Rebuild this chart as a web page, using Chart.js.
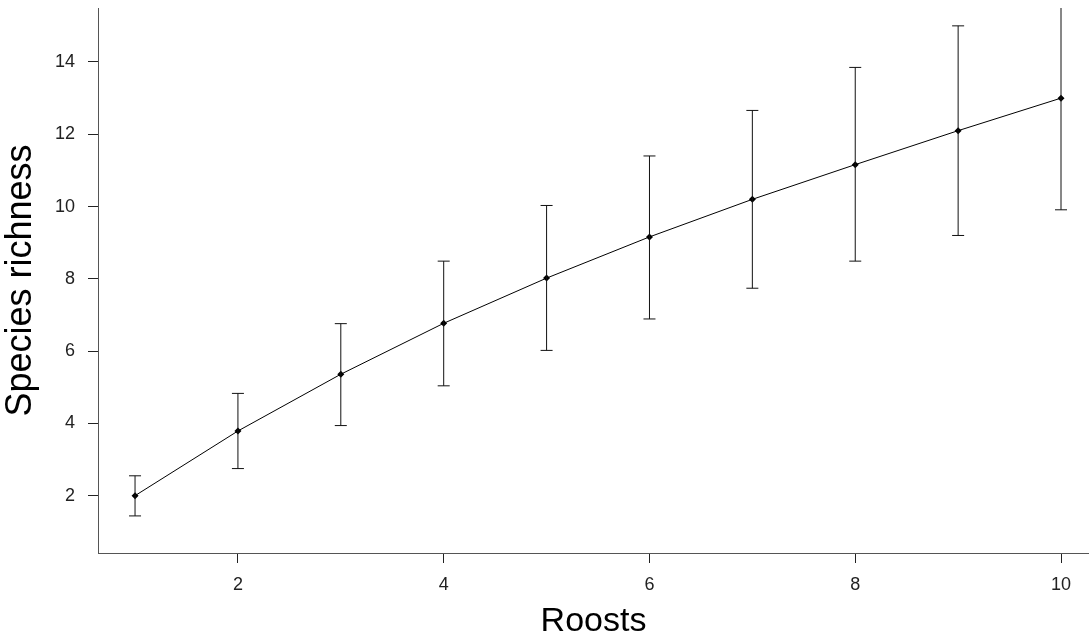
<!DOCTYPE html>
<html>
<head>
<meta charset="utf-8">
<title>Species richness by roosts</title>
<script src="https://cdn.jsdelivr.net/npm/chart.js@4.4.1/dist/chart.umd.min.js"></script>
<style>
    body { margin: 0; background: #fff; }
    #wrap { width: 1089px; height: 640px; }
</style>
</head>
<body>
<div id="wrap"><canvas id="richnessChart" width="1089" height="640"></canvas></div>
<script>
// values
const roosts = [1, 2, 3, 4, 5, 6, 7, 8, 9, 10];
const richness = [2.0, 3.79, 5.36, 6.77, 8.02, 9.16, 10.20, 11.16, 12.10, 13.0];
const lowerCI = [1.44, 2.75, 3.94, 5.04, 6.02, 6.89, 7.74, 8.49, 9.20, 9.91];
const upperCI = [2.55, 4.83, 6.76, 8.49, 10.03, 11.40, 12.66, 13.85, 15.0, 16.09];
const xTicks = [2, 4, 6, 8, 10];
const yTicks = [2, 4, 6, 8, 10, 12, 14];

const labelFont = "'Liberation Sans', Arial, sans-serif";

// draws the vertical error bars with caps, using the chart's own scales
const errorBars = {
    id: "errorBars",
    afterDatasetsDraw(chart) {
        const ctx = chart.ctx;
        const xs = chart.scales.x;
        const ys = chart.scales.y;
        const area = chart.chartArea;
        const cap = 6;

        ctx.save();
        ctx.beginPath();
        ctx.rect(area.left, area.top, area.right - area.left, area.bottom - area.top);
        ctx.clip();
        ctx.strokeStyle = "#111";
        ctx.lineWidth = 1;

        roosts.forEach((r, i) => {
            const px = xs.getPixelForValue(r);
            const top = ys.getPixelForValue(upperCI[i]);
            const bot = ys.getPixelForValue(lowerCI[i]);
            ctx.beginPath();
            ctx.moveTo(px, top);
            ctx.lineTo(px, bot);
            ctx.moveTo(px - cap, top);
            ctx.lineTo(px + cap, top);
            ctx.moveTo(px - cap, bot);
            ctx.lineTo(px + cap, bot);
            ctx.stroke();
        });
        ctx.restore();
    }
};

// the plot box is fixed, so drop the extra room Chart.js keeps for edge labels
function noEdgePadding(axis) {
    axis.paddingTop = 0;
    axis.paddingBottom = 0;
    axis.paddingLeft = 0;
    axis.paddingRight = 0;
}

const ctx = document.getElementById("richnessChart").getContext("2d");

new Chart(ctx, {
    type: "line",
    data: {
        datasets: [{
            data: roosts.map((r, i) => ({ x: r, y: richness[i] })),
            borderColor: "#000",
            borderWidth: 1,
            backgroundColor: "#000",
            pointStyle: "rectRot",
            pointRadius: 3.5,
            pointBorderWidth: 0,
            tension: 0,
            fill: false
        }]
    },
    options: {
        responsive: false,
        animation: false,
        layout: {
            autoPadding: false,
            padding: { top: 8, right: 0, bottom: 0, left: 0 }
        },
        plugins: {
            legend: { display: false },
            tooltip: { enabled: false }
        },
        scales: {
            x: {
                type: "linear",
                min: 0.64,
                max: 10.272,
                afterBuildTicks: axis => {
                    axis.ticks = xTicks.map(v => ({ value: v }));
                },
                afterFit: axis => {
                    axis.height = 87;
                    noEdgePadding(axis);
                },
                border: { display: true, color: "#555", width: 1 },
                grid: {
                    drawOnChartArea: false,
                    drawTicks: true,
                    tickLength: 10,
                    color: "#222"
                },
                ticks: {
                    color: "#222",
                    padding: 11,
                    maxRotation: 0,
                    font: { family: labelFont, size: 18 }
                },
                title: {
                    display: true,
                    text: "Roosts",
                    color: "#000",
                    padding: { top: 0, bottom: 1 },
                    font: { family: labelFont, size: 34, lineHeight: 1 }
                }
            },
            y: {
                type: "linear",
                min: 0.414,
                max: 15.494,
                afterBuildTicks: axis => {
                    axis.ticks = yTicks.map(v => ({ value: v }));
                },
                afterFit: axis => {
                    axis.width = 98;
                    noEdgePadding(axis);
                },
                border: { display: true, color: "#555", width: 1 },
                grid: {
                    drawOnChartArea: false,
                    drawTicks: true,
                    tickLength: 10,
                    color: "#222"
                },
                ticks: {
                    color: "#222",
                    padding: 13,
                    font: { family: labelFont, size: 18 }
                },
                title: {
                    display: true,
                    text: "Species richness",
                    color: "#000",
                    padding: { top: 3, bottom: 0 },
                    font: { family: labelFont, size: 36, lineHeight: 1 }
                }
            }
        }
    },
    plugins: [errorBars]
});
</script>
</body>
</html>
